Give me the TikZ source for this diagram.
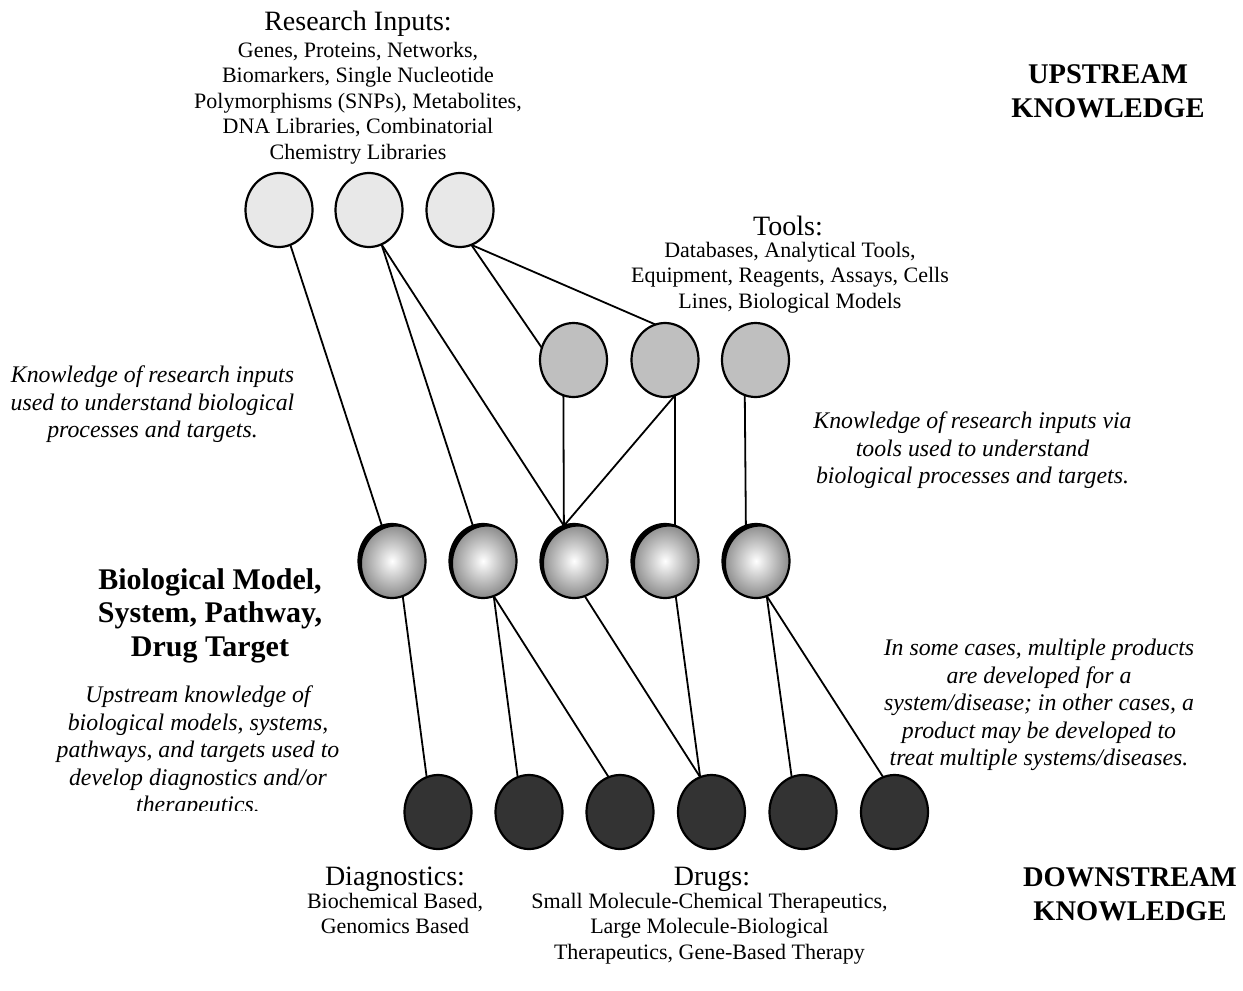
\documentclass[tikz,border=0pt]{standalone}
\usepackage{fontspec}
\setmainfont{Liberation Serif}
\usetikzlibrary{shapes.geometric,calc}

\begin{document}
\begin{tikzpicture}[x=1pt,y=-1pt,
  blob/.style={ellipse,draw=black,line width=2.2pt,minimum width=67pt,
    minimum height=74pt,inner sep=0pt,outer sep=0pt},
  inputnode/.style={blob,fill=black!9},
  toolnode/.style={blob,fill=black!25},
  targetnode/.style={blob,inner color=white,outer color=black!46,
    path picture={\fill[black,even odd rule]
      ($(path picture bounding box.center)+(-50pt,-50pt)$) rectangle
      ($(path picture bounding box.center)+(50pt,50pt)$)
      ($(path picture bounding box.center)+(4pt,-2.6pt)$)
      ellipse [x radius=34pt, y radius=37pt];}},
  productnode/.style={blob,fill=black!80},
  link/.style={line width=1.8pt},
  ttl/.style={font=\fontsize{28}{30}\selectfont,inner sep=0pt,anchor=north},
  body/.style={font=\fontsize{22}{25.5}\selectfont,align=center,inner sep=0pt,anchor=north},
  note/.style={font=\fontsize{23.8}{27.5}\selectfont\itshape,align=center,inner sep=0pt,anchor=north},
  heading/.style={font=\fontsize{28.5}{34}\selectfont\bfseries,align=center,inner sep=0pt,anchor=north},
  levelname/.style={font=\fontsize{30}{33.5}\selectfont\bfseries,align=center,inner sep=0pt,anchor=north}
]
\useasboundingbox (0,0) rectangle (1243,991);

% research inputs
\node[inputnode] (t1) at (279,210) {};
\node[inputnode] (t2) at (369,210) {};
\node[inputnode] (t3) at (460,210) {};

% tools
\node[toolnode] (l1) at (573.5,360) {};
\node[toolnode] (l2) at (665,360) {};
\node[toolnode] (l3) at (755.5,360) {};

% biological models, systems, pathways, targets
\node[targetnode] (m1) at (392,561) {};
\node[targetnode] (m2) at (483,561) {};
\node[targetnode] (m3) at (574,561) {};
\node[targetnode] (m4) at (665,561) {};
\node[targetnode] (m5) at (756,561) {};

% diagnostics and drugs
\node[productnode] (b1) at (438,812) {};
\node[productnode] (b2) at (529,812) {};
\node[productnode] (b3) at (620,812) {};
\node[productnode] (b4) at (711.5,812) {};
\node[productnode] (b5) at (803,812) {};
\node[productnode] (b6) at (894.5,812) {};

% links
\draw[link] (t1.-72) -- (m1.106);
\draw[link] (t2.-70) -- (m2.106);
\draw[link] (t2.-70) -- (m3.106);
\draw[link] (t3.-72) -- (l1.159);
\draw[link] (t3.-72) -- (l2.105);
\draw[link] (l1.-106) -- (m3.106);
\draw[link] (l2.-74) -- (m3.106);
\draw[link] (l2.-74) -- (m4.74);
\draw[link] (l3.-107) -- (m5.106);
\draw[link] (m1.-73) -- (b1.108);
\draw[link] (m2.-73) -- (b2.108);
\draw[link] (m2.-73) -- (b3.108);
\draw[link] (m3.-73) -- (b4.108);
\draw[link] (m4.-73) -- (b4.108);
\draw[link] (m5.-73) -- (b5.108);
\draw[link] (m5.-73) -- (b6.108);

% labels
\node[ttl] (ritl) at (358,11) {Research Inputs:};
\node[body] (rit) at (358,42) {Genes, Proteins, Networks,\\Biomarkers, Single Nucleotide\\Polymorphisms (SNPs), Metabolites,\\DNA Libraries, Combinatorial\\Chemistry Libraries};

\node[ttl] (tltl) at (788,216) {Tools:};
\node[body] (tlt) at (790,242) {Databases, Analytical Tools,\\Equipment, Reagents, Assays, Cells\\Lines, Biological Models};

\node[heading] (up) at (1108,64) {UPSTREAM\\KNOWLEDGE};
\node[heading] (down) at (1130,867) {DOWNSTREAM\\KNOWLEDGE};

\node[note] (n1) at (152.5,366) {Knowledge of research inputs\\used to understand biological\\processes and targets.};
\node[note] (n2) at (972.5,412) {Knowledge of research inputs via\\tools used to understand\\biological processes and targets.};

\node[levelname] (bm) at (210,568) {Biological Model,\\System, Pathway,\\Drug Target};

\begin{scope}
  \clip (0,600) rectangle (400,810);
  \node[note] (n3) at (198,686) {Upstream knowledge of\\biological models, systems,\\pathways, and targets used to\\develop diagnostics and/or\\therapeutics.};
\end{scope}
\node[note] (n4) at (1039,639) {In some cases, multiple products\\are developed for a\\system/disease; in other cases, a\\product may be developed to\\treat multiple systems/diseases.};

\node[ttl] (dgtl) at (395,867) {Diagnostics:};
\node[body] (dgt) at (395,893) {Biochemical Based,\\Genomics Based};
\node[ttl] (drtl) at (712,867) {Drugs:};
\node[body] (drt) at (709.5,893) {Small Molecule-Chemical Therapeutics,\\Large Molecule-Biological\\Therapeutics, Gene-Based Therapy};
\end{tikzpicture}
\end{document}
